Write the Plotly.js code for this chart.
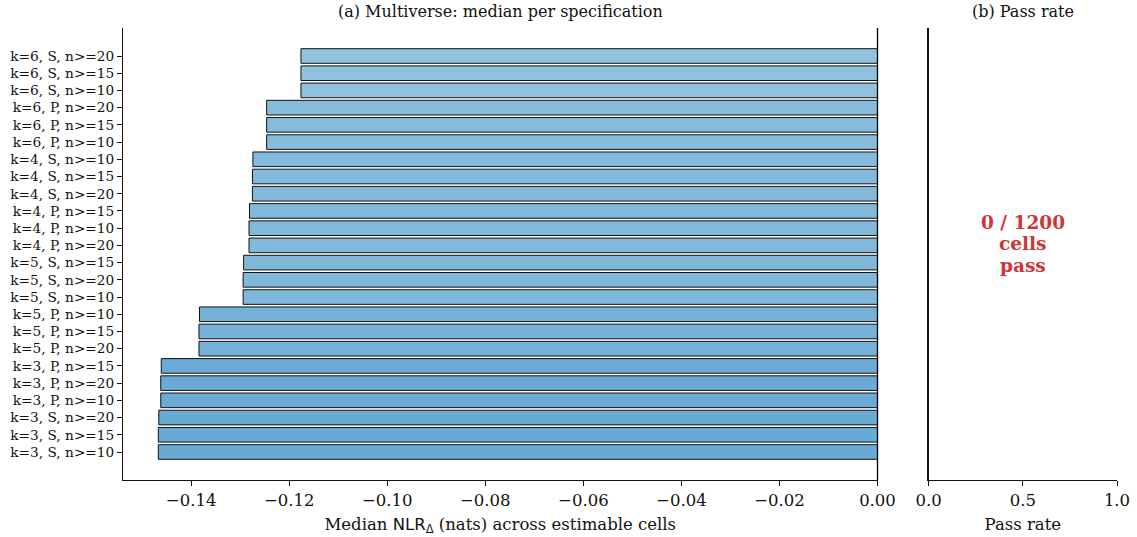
<!DOCTYPE html>
<html>
<head>
<meta charset="utf-8">
<script src="https://cdn.plot.ly/plotly-3.0.1.min.js"></script>
<style>html,body{margin:0;padding:0;background:#fff;}#chart{width:1137px;height:537px;}</style>
</head>
<body>
<div id="chart"></div>
<script>
// Specifications, bottom to top
const specs = [
  "k=3, S, n>=10", "k=3, S, n>=15", "k=3, S, n>=20",
  "k=3, P, n>=10", "k=3, P, n>=20", "k=3, P, n>=15",
  "k=5, P, n>=20", "k=5, P, n>=15", "k=5, P, n>=10",
  "k=5, S, n>=10", "k=5, S, n>=20", "k=5, S, n>=15",
  "k=4, P, n>=20", "k=4, P, n>=10", "k=4, P, n>=15",
  "k=4, S, n>=20", "k=4, S, n>=15", "k=4, S, n>=10",
  "k=6, P, n>=10", "k=6, P, n>=15", "k=6, P, n>=20",
  "k=6, S, n>=10", "k=6, S, n>=15", "k=6, S, n>=20"
];
const medianNLR = [
  -0.1467, -0.1467, -0.1466,
  -0.1462, -0.1462, -0.1461,
  -0.1384, -0.1384, -0.1383,
  -0.1294, -0.1294, -0.1293,
  -0.1282, -0.1282, -0.1281,
  -0.1275, -0.1275, -0.1274,
  -0.1246, -0.1246, -0.1246,
  -0.1176, -0.1176, -0.1176
];
const xTicks = [-0.14, -0.12, -0.10, -0.08, -0.06, -0.04, -0.02, 0.00];
const xTickText = ["\u22120.14", "\u22120.12", "\u22120.10", "\u22120.08", "\u22120.06", "\u22120.04", "\u22120.02", "0.00"];
const passTicks = [0, 0.5, 1.0];
const passTickText = ["0.0", "0.5", "1.0"];
const passCount = 0;
const totalCells = 1200;
const passLines = [passCount + " / " + totalCells, "cells", "pass"];

const serif = "DejaVu Serif, serif";
const txt = "#111111";

const traces = [
  {
    type: "bar",
    orientation: "h",
    y: specs,
    x: medianNLR,
    width: 0.85,
    marker: {
      color: medianNLR,
      colorscale: [[0, "#69aad4"], [1, "#90c2de"]],
      cmin: Math.min(...medianNLR),
      cmax: Math.max(...medianNLR),
      line: {color: "#111111", width: 1}
    },
    xaxis: "x",
    yaxis: "y",
    hoverinfo: "x+y"
  },
  {
    type: "scatter",
    mode: "markers",
    x: [],
    y: [],
    xaxis: "x2",
    yaxis: "y2",
    showlegend: false
  }
];

const leftDomain = [123 / 1137, 877.5 / 1137];
const yDomain = [1 - 480 / 537, 1 - 28 / 537];
const yRange = [-1.626, 24.626];

const passAnnotations = passLines.map((line, i) => ({
  text: "<b>" + line + "</b>", xref: "x2", yref: "paper",
  x: 0.5, y: 1 - (222 + i * 21.5) / 537, xanchor: "center", yanchor: "middle",
  showarrow: false, font: {family: serif, size: 18.5, color: "#d03536"}
}));

const layout = {
  width: 1137,
  height: 537,
  margin: {l: 0, r: 0, t: 0, b: 0},
  paper_bgcolor: "#fff",
  plot_bgcolor: "#fff",
  showlegend: false,
  bargap: 0,
  font: {family: serif, color: txt},
  xaxis: {
    domain: leftDomain,
    range: [-0.1539, 0],
    tickvals: xTicks,
    ticktext: xTickText,
    ticks: "outside",
    ticklen: 5,
    tickwidth: 1,
    tickcolor: "#111",
    showline: true,
    linecolor: "#111",
    linewidth: 1,
    showgrid: false,
    zeroline: false,
    tickfont: {family: serif, size: 16.5, color: txt},
    title: {
      text: 'Median <span style="font-family:DejaVu Sans">NLR</span><sub><span style="font-family:DejaVu Sans">\u0394</span></sub> (nats) across estimable cells',
      font: {family: serif, size: 16.5, color: txt},
      standoff: 9
    },
    anchor: "y",
    fixedrange: true
  },
  yaxis: {
    domain: yDomain,
    type: "category",
    categoryarray: specs,
    range: yRange,
    ticks: "outside",
    ticklen: 5,
    tickwidth: 1,
    tickcolor: "#111",
    showline: true,
    linecolor: "#111",
    linewidth: 1,
    showgrid: false,
    tickfont: {family: serif, size: 13.7, color: txt},
    anchor: "x",
    fixedrange: true
  },
  xaxis2: {
    domain: [928.7 / 1137, 1117 / 1137],
    range: [0, 1],
    tickvals: passTicks,
    ticktext: passTickText,
    ticks: "outside",
    ticklen: 5,
    tickwidth: 1,
    tickcolor: "#111",
    showline: true,
    linecolor: "#111",
    linewidth: 1,
    showgrid: false,
    zeroline: false,
    tickfont: {family: serif, size: 16.5, color: txt},
    title: {text: "Pass rate", font: {family: serif, size: 16.5, color: txt}, standoff: 9},
    anchor: "y2",
    fixedrange: true
  },
  yaxis2: {
    domain: yDomain,
    range: [0, 1],
    showline: true,
    linecolor: "#111",
    linewidth: 1.3,
    ticks: "",
    showticklabels: false,
    showgrid: false,
    zeroline: false,
    anchor: "x2",
    fixedrange: true
  },
  shapes: [
    // reference line at x = 0 (right edge of the left panel)
    {type: "line", xref: "paper", yref: "paper", x0: leftDomain[1], x1: leftDomain[1],
     y0: yDomain[0], y1: yDomain[1], layer: "above", line: {color: "#000", width: 1.3}}
  ],
  annotations: [
    {text: "(a) Multiverse: median per specification", xref: "paper", yref: "paper",
     x: (leftDomain[0] + leftDomain[1]) / 2, y: 1 - 11 / 537, xanchor: "center", yanchor: "middle",
     showarrow: false, font: {family: serif, size: 16, color: txt}},
    {text: "(b) Pass rate", xref: "paper", yref: "paper",
     x: (928.7 + 1117) / 2 / 1137, y: 1 - 11 / 537, xanchor: "center", yanchor: "middle",
     showarrow: false, font: {family: serif, size: 16, color: txt}}
  ].concat(passAnnotations)
};

Plotly.newPlot("chart", traces, layout, {displayModeBar: false, staticPlot: true});
</script>
</body>
</html>
